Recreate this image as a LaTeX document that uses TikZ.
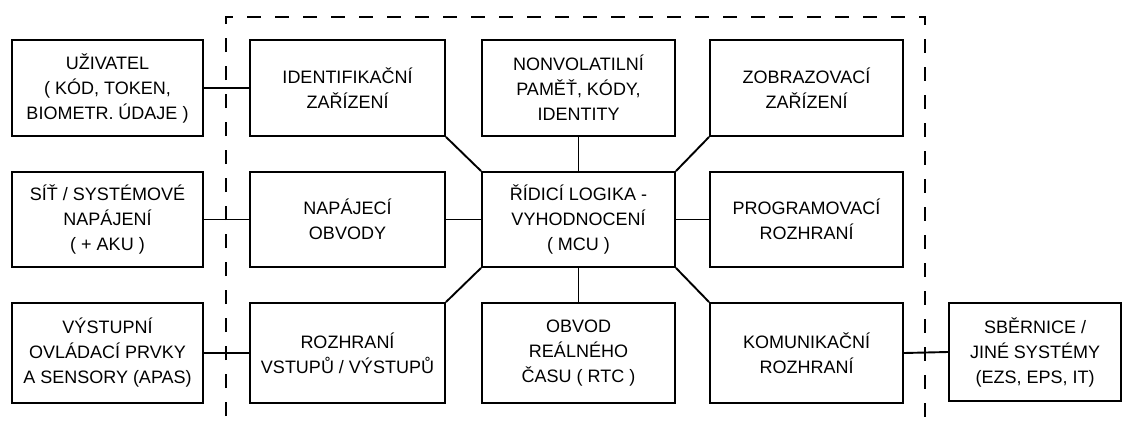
\documentclass[tikz,border=0pt]{standalone}
\usepackage{fontspec}
\setmainfont{Liberation Sans}
\begin{document}
\begin{tikzpicture}[x=1pt,y=-1pt,
  box/.style={draw, line width=1.9pt, align=center, inner sep=0pt,
    font=\fontsize{18}{25}\selectfont},
  cA/.style={box, minimum width=191pt},
  cB/.style={box, minimum width=195pt},
  cC/.style={box, minimum width=193pt},
  cD/.style={box, minimum width=193pt},
  cE/.style={box, minimum width=172pt},
  rA/.style={minimum height=96pt},
  rB/.style={minimum height=95pt},
  rC/.style={minimum height=100pt},
  link/.style={line width=1.9pt},
  border/.style={line width=2pt, dash pattern=on 14pt off 14pt, dash phase=21pt}]
\useasboundingbox (0,0) rectangle (1124,423);
% boundary
\draw[border] (226,423) -- (226,17) -- (925,17) -- (925,423);
% column 1
\node[cA,rA] (u) at (107.5,88) {UŽIVATEL\\( KÓD, TOKEN,\\BIOMETR. ÚDAJE )};
\node[cA,rB] (sit) at (107.5,219.5) {SÍŤ / SYSTÉMOVÉ\\NAPÁJENÍ\\( + AKU )};
\node[cA,rC] (vyst) at (107.5,353) {VÝSTUPNÍ\\OVLÁDACÍ PRVKY\\A SENSORY (APAS)};
% column 2
\node[cB,rA] (id) at (347.5,88) {IDENTIFIKAČNÍ\\ZAŘÍZENÍ};
\node[cB,rB] (nap) at (347.5,219.5) {NAPÁJECÍ\\OBVODY};
\node[cB,rC] (roz) at (347.5,353) {ROZHRANÍ\\VSTUPŮ / VÝSTUPŮ};
% column 3
\node[cC,rA] (nv) at (578.5,88) {NONVOLATILNÍ\\PAMĚŤ, KÓDY,\\IDENTITY};
\node[cC,rB] (mcu) at (578.5,219.5) {ŘÍDICÍ LOGIKA -\\VYHODNOCENÍ\\( MCU )};
\node[cC,rC] (rtc) at (578.5,353) {OBVOD\\REÁLNÉHO\\ČASU ( RTC )};
% column 4
\node[cD,rA] (zob) at (806.5,88) {ZOBRAZOVACÍ\\ZAŘÍZENÍ};
\node[cD,rB] (prog) at (806.5,219.5) {PROGRAMOVACÍ\\ROZHRANÍ};
\node[cD,rC] (kom) at (806.5,353) {KOMUNIKAČNÍ\\ROZHRANÍ};
% column 5
\node[cE,box,minimum height=98pt] (sber) at (1035,352) {SBĚRNICE /\\JINÉ SYSTÉMY\\(EZS, EPS, IT)};
% links
\draw[link] (u.east) -- (id.west);
\draw[link] (sit.east) -- (nap.west);
\draw[link] (vyst.east) -- (roz.west);
\draw[link] (kom.east) -- (sber.west);
\draw[link] (id.south east) -- (mcu.north west);
\draw[link] (nv.south) -- (mcu.north);
\draw[link] (zob.south west) -- (mcu.north east);
\draw[link] (nap.east) -- (mcu.west);
\draw[link] (prog.west) -- (mcu.east);
\draw[link] (roz.north east) -- (mcu.south west);
\draw[link] (rtc.north) -- (mcu.south);
\draw[link] (kom.north west) -- (mcu.south east);
\end{tikzpicture}
\end{document}
